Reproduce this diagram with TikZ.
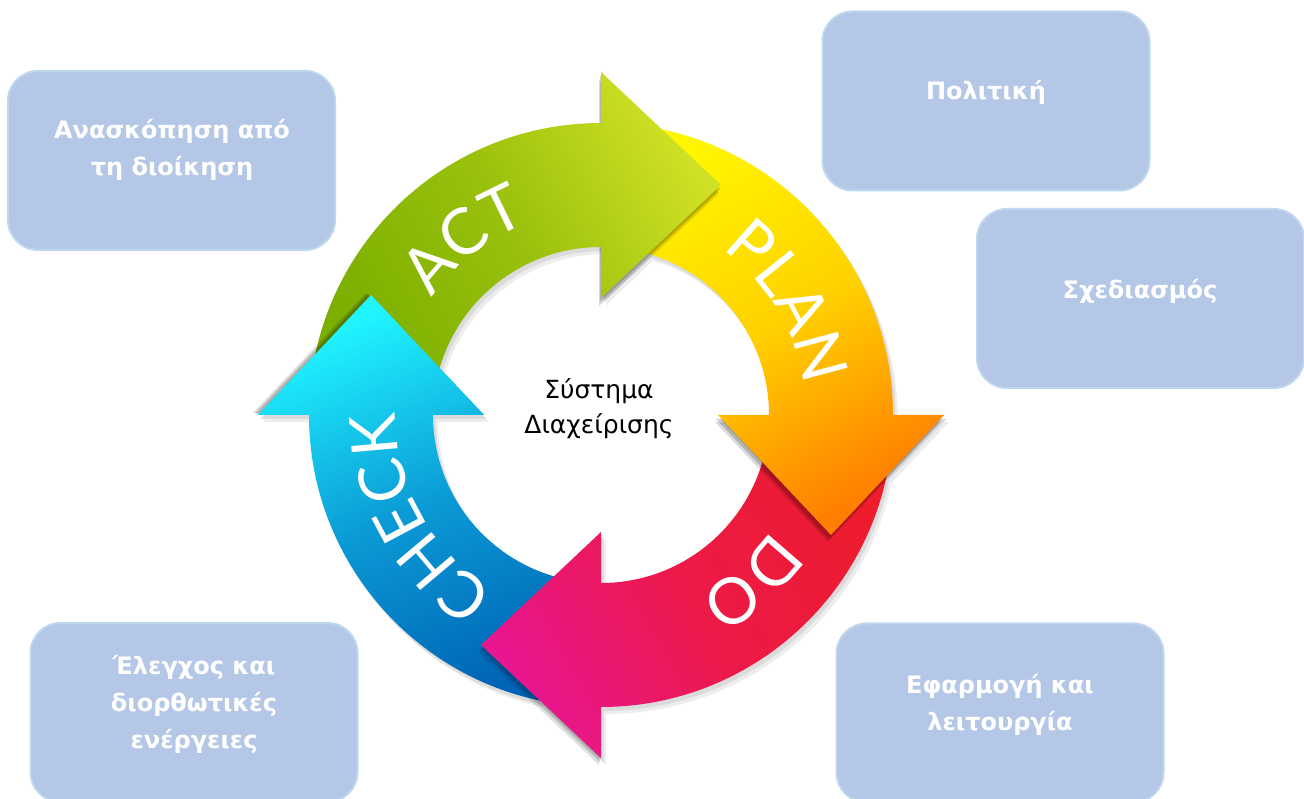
\documentclass[tikz,border=0pt]{standalone}
\usepackage{fontspec}
\setmainfont{Noto Sans}
\newfontfamily\boxfont{DejaVu Sans}
\newfontfamily\cyclefont{Lato}
\usetikzlibrary{calc,decorations.text}
\definecolor{boxfill}{HTML}{B4C7E7}
\definecolor{boxline}{HTML}{BDD7EE}
\definecolor{actD}{HTML}{7AAE00}
\definecolor{actM}{HTML}{98C00C}
\definecolor{actL}{HTML}{D0E024}
\definecolor{planL}{HTML}{FFF600}
\definecolor{planM}{HTML}{FFD000}
\definecolor{planD}{HTML}{FF7E00}
\definecolor{doR}{HTML}{EE1C2C}
\definecolor{doM}{HTML}{EC1A48}
\definecolor{doP}{HTML}{E8168F}
\definecolor{chkD}{HTML}{0064B6}
\definecolor{chkM}{HTML}{0B9BD6}
\definecolor{chkL}{HTML}{20F4FF}
% full arrow: band from angle #1 clockwise to #2, head at #2
\newcommand\cyclearrow[2]{($(O)+(#1:292)$) arc[start angle=#1, end angle=#2, radius=292]
  -- ($(O)+(#2:343)$) -- ($(O)+(#2:230)+(#2-90:120)$) -- ($(O)+(#2:117)$)
  -- ($(O)+(#2:168)$) arc[start angle=#2, end angle=#1, radius=168] -- cycle}
\newcommand\cyclehead[1]{($(O)+(#1:343)$) -- ($(O)+(#1:230)+(#1-90:120)$) -- ($(O)+(#1:117)$) -- cycle}
\tikzset{
  infobox/.style={draw=boxline, line width=2pt, fill=boxfill, rounded corners=30pt,
    minimum width=327pt, minimum height=179pt, inner sep=0pt},
  infotext/.style={text=white, font=\boxfont\bfseries\fontsize{24}{37}\selectfont, align=center, inner sep=0pt},
  actshade/.style={top color=actL, bottom color=actD, middle color=actM, shading angle=-60},
  planshade/.style={top color=planD, bottom color=planL, middle color=planM, shading angle=-150},
  doshade/.style={top color=doP, bottom color=doR, middle color=doM, shading angle=119},
  chkshade/.style={top color=chkL, bottom color=chkD, middle color=chkM, shading angle=23},
  cyclelabel/.style={decorate, decoration={text along path, text align=center,
    text={|\cyclefont\fontsize{64}{64}\selectfont\color{white}|#1}}},
}
\begin{document}
\begin{tikzpicture}[x=1pt, y=1pt]
\useasboundingbox (0,0) rectangle (1304,798);
\coordinate (O) at (601,383);
% boxes
\node[infobox] (b1) at (171.5,637.5) {};
\node[infobox] (b2) at (986,697) {};
\node[infobox] (b3) at (1140.5,499.5) {};
\node[infobox] (b4) at (194,85.5) {};
\node[infobox] (b5) at (1000,85) {};
\node[infotext] (t1) at (172,648) {Ανασκόπηση από\\τη διοίκηση};
\node[infotext] (t2) at (986,706) {Πολιτική};
\node[infotext] (t3) at (1140,507) {Σχεδιασμός};
\node[infotext] (t4) at (194,94) {Έλεγχος και\\διορθωτικές\\ενέργειες};
\node[infotext] (t5) at (1000,93) {Εφαρμογή και\\λειτουργία};
% soft drop shadow of the ring
\begin{scope}[transform canvas={shift={(5pt,-7pt)}}]
  \fill[black!7, even odd rule] (O) circle[radius=292] (O) circle[radius=168];
  \fill[black!7] \cyclehead{90}; \fill[black!7] \cyclehead{0};
  \fill[black!7] \cyclehead{-90}; \fill[black!7] \cyclehead{180};
\end{scope}
\begin{scope}[transform canvas={shift={(2.5pt,-4pt)}}]
  \fill[black!14, even odd rule] (O) circle[radius=292] (O) circle[radius=168];
  \fill[black!14] \cyclehead{90}; \fill[black!14] \cyclehead{0};
  \fill[black!14] \cyclehead{-90}; \fill[black!14] \cyclehead{180};
\end{scope}
% CHECK
\shade[chkshade] \cyclearrow{270}{180};
% DO
\begin{scope}[transform canvas={shift={(-2pt,-7pt)}}]\fill[black, opacity=.12] \cyclehead{-90};\end{scope}
\begin{scope}[transform canvas={shift={(-1pt,-4pt)}}]\fill[black, opacity=.15] \cyclehead{-90};\end{scope}
\shade[doshade] \cyclearrow{0}{-90};
% PLAN
\begin{scope}[transform canvas={shift={(-3pt,-7pt)}}]\fill[black, opacity=.14] \cyclehead{0};\end{scope}
\begin{scope}[transform canvas={shift={(-2pt,-4pt)}}]\fill[black, opacity=.18] \cyclehead{0};\end{scope}
\shade[planshade] \cyclearrow{90}{0};
% ACT
\begin{scope}[transform canvas={shift={(-2pt,-8pt)}}]\fill[black, opacity=.14] \cyclehead{90};\end{scope}
\begin{scope}[transform canvas={shift={(-1pt,-4pt)}}]\fill[black, opacity=.18] \cyclehead{90};\end{scope}
\shade[actshade] \cyclearrow{180}{90};
% CHECK head on top of ACT tail
\begin{scope}[transform canvas={shift={(-5pt,2pt)}}]\fill[black, opacity=.14] \cyclehead{180};\end{scope}
\begin{scope}[transform canvas={shift={(-3pt,1pt)}}]\fill[black, opacity=.18] \cyclehead{180};\end{scope}
\begin{scope}
  \clip \cyclehead{180};
  \shade[chkshade] \cyclearrow{270}{180};
\end{scope}
% labels on the arrows
\path[cyclelabel=ACT] ($(O)+(168:205)$) arc[start angle=168, end angle=88, radius=205];
\path[cyclelabel=PLAN] ($(O)+(71:205)$) arc[start angle=71, end angle=-9, radius=205];
\path[cyclelabel=DO] ($(O)+(-8:205)$) arc[start angle=-8, end angle=-88, radius=205];
\path[cyclelabel=CHECK] ($(O)+(249:205)$) arc[start angle=249, end angle=169, radius=205];
% centre
\node[font=\boxfont\fontsize{25}{35}\selectfont, align=center, inner sep=0pt] (centre) at (599,389) {Σύστημα\\Διαχείρισης};
\end{tikzpicture}
\end{document}
